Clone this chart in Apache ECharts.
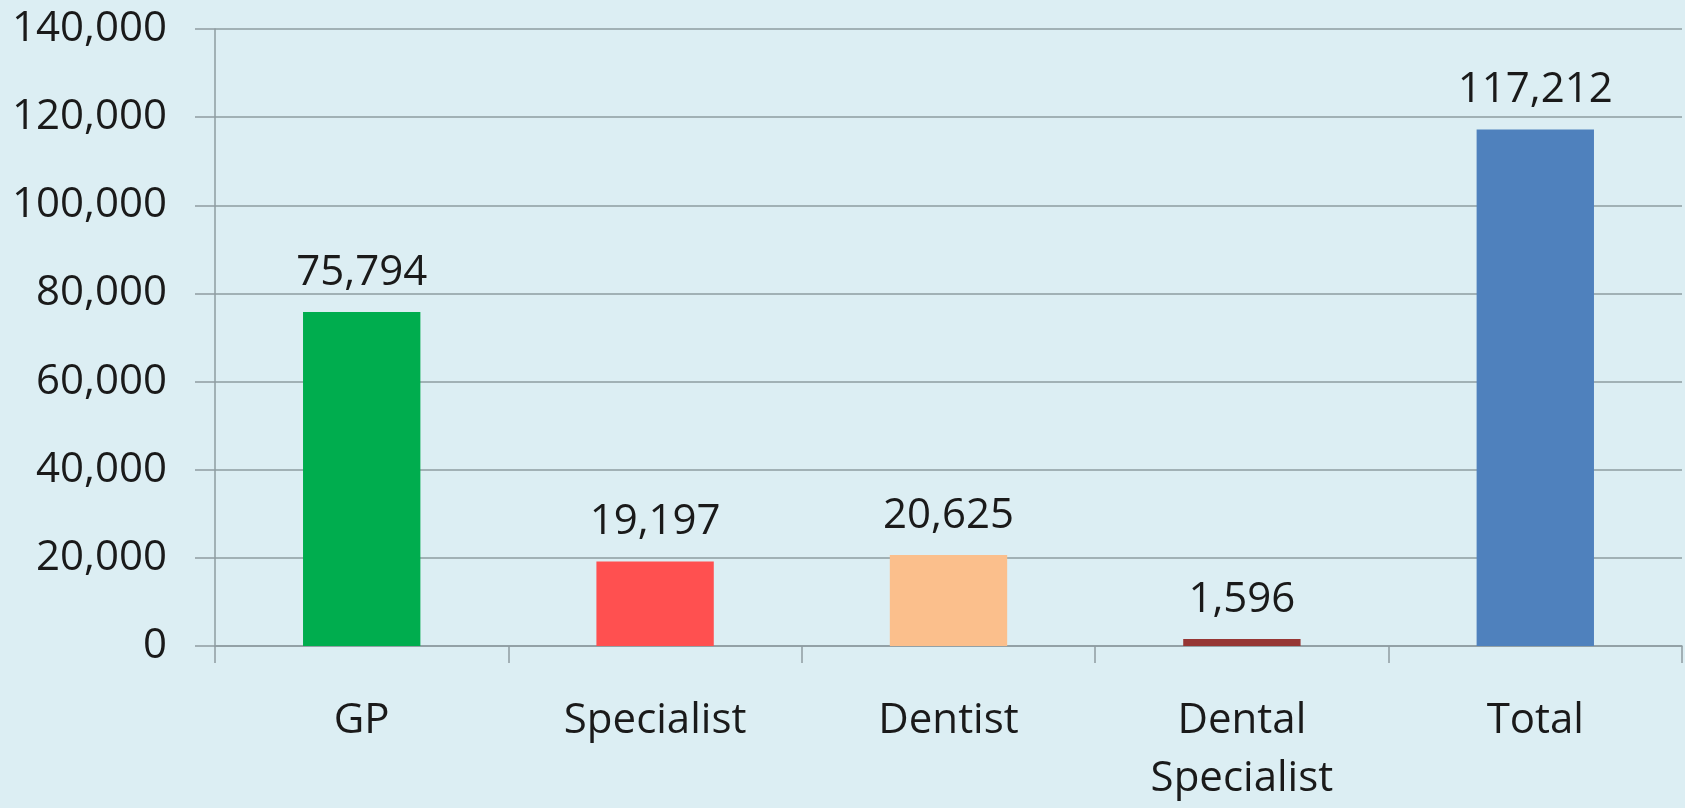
<!DOCTYPE html>
<html>
<head>
<meta charset="utf-8">
<script src="https://cdn.jsdelivr.net/npm/echarts@6/dist/echarts.min.js"></script>
<style>
html,body{margin:0;padding:0;background:#DCEEF3;}
#chart{width:1685px;height:808px;}
</style>
</head>
<body>
<div id="chart"></div>
<script>
const categories = ['GP', 'Specialist', 'Dentist', 'Dental\nSpecialist', 'Total'];
const values = [75794, 19197, 20625, 1596, 117212];
const barColors = ['#00AD4E', '#FF5050', '#FBBF8C', '#963634', '#4F81BD'];
const yTicks = [0, 20000, 40000, 60000, 80000, 100000, 120000, 140000];

const fmt = v => Number(v).toLocaleString('en-US');
const FONT = 'Open Sans';
const chart = echarts.init(document.getElementById('chart'), null, {renderer: 'canvas'});
chart.setOption({
  backgroundColor: '#DCEEF3',
  animation: false,
  grid: {left: 215, right: 3, top: 29, bottom: 155, containLabel: false},
  xAxis: {
    type: 'category',
    data: categories,
    axisLine: {lineStyle: {color: '#8E9CA1', width: 1.5}},
    axisTick: {show: true, length: 17, lineStyle: {color: '#8E9CA1', width: 1.5}},
    axisLabel: {
      color: '#1a1a1a', fontFamily: FONT, fontSize: 42, lineHeight: 58, margin: 46
    }
  },
  yAxis: {
    type: 'value',
    min: yTicks[0],
    max: yTicks[yTicks.length - 1],
    interval: 20000,
    axisLine: {show: true, lineStyle: {color: '#8E9CA1', width: 1.5}},
    axisTick: {show: true, length: 20, lineStyle: {color: '#8E9CA1', width: 1.5}},
    splitLine: {show: true, lineStyle: {color: '#8E9CA1', width: 1.5}},
    axisLabel: {
      color: '#1a1a1a', fontFamily: FONT, fontSize: 42, margin: 48,
      formatter: v => fmt(v)
    }
  },
  series: [{
    type: 'bar',
    barWidth: '40%',
    data: values.map((v, i) => ({value: v, itemStyle: {color: barColors[i]}})),
    label: {
      show: true, position: 'top', distance: 15,
      color: '#1a1a1a', fontFamily: FONT, fontSize: 42, lineHeight: 48,
      formatter: p => fmt(p.value)
    }
  }]
});
</script>
</body>
</html>
